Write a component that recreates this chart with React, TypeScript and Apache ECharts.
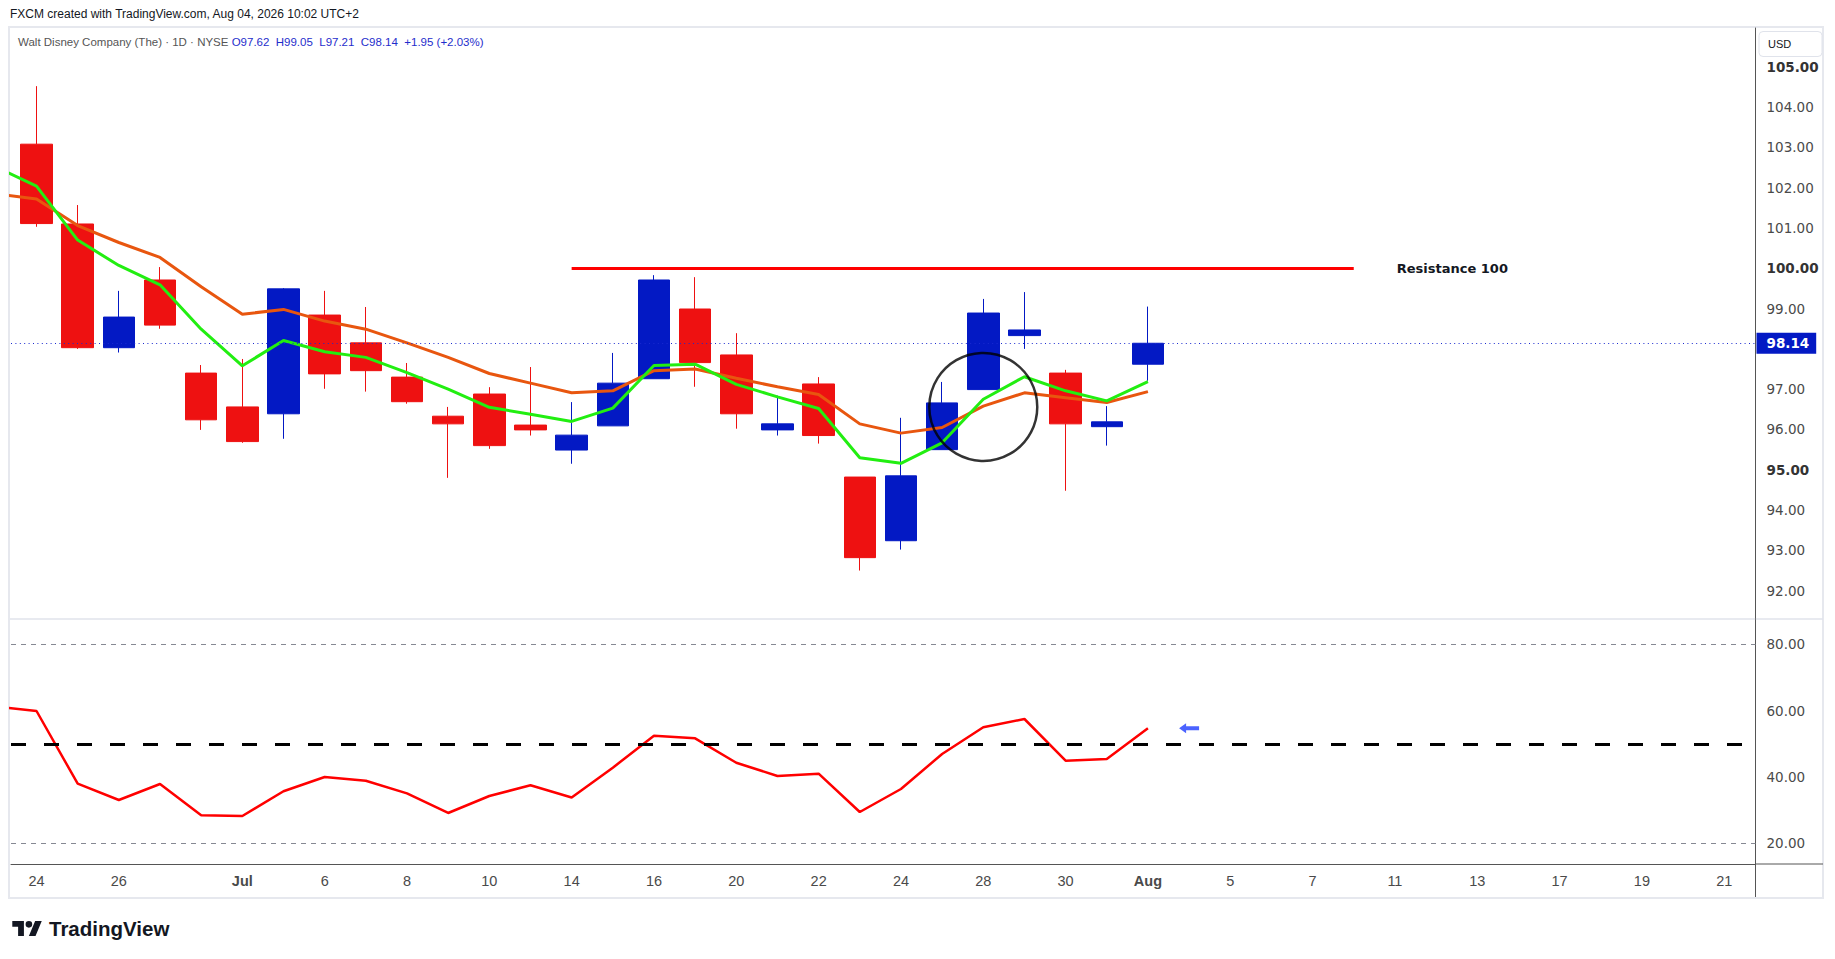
import React, { useEffect, useRef } from "react";
import * as echarts from "echarts";

// ---- data ----
const tradingDays = [
  "2026-06-24", "2026-06-25", "2026-06-26", "2026-06-29", "2026-06-30", "2026-07-01", "2026-07-02",
  "2026-07-06", "2026-07-07", "2026-07-08", "2026-07-09", "2026-07-10", "2026-07-13", "2026-07-14",
  "2026-07-15", "2026-07-16", "2026-07-17", "2026-07-20", "2026-07-21", "2026-07-22", "2026-07-23",
  "2026-07-24", "2026-07-27", "2026-07-28", "2026-07-29", "2026-07-30", "2026-07-31", "2026-08-03",
];
const openPrices = [103.08, 101.1, 98.03, 99.71, 97.4, 96.56, 96.39, 98.84, 98.15, 97.3, 96.33, 96.88, 96.11, 95.49, 96.09, 97.26, 98.99, 97.85, 95.99, 97.13, 94.82, 93.24, 95.5, 96.99, 98.33, 97.4, 96.07, 97.62];
const closePrices = [101.11, 98.03, 98.79, 98.59, 96.24, 95.7, 99.49, 97.38, 97.46, 96.69, 96.14, 95.6, 95.99, 95.86, 97.15, 99.71, 97.66, 96.39, 96.14, 95.85, 92.82, 94.85, 96.66, 98.89, 98.47, 96.14, 96.19, 98.14];
const lowPrices = [101.03, 98.0, 97.91, 98.5, 95.99, 95.67, 95.77, 97.01, 96.94, 96.64, 94.8, 95.52, 95.85, 95.15, 96.09, 97.26, 97.06, 96.02, 95.85, 95.65, 92.5, 93.02, 95.5, 96.99, 98.0, 94.48, 95.6, 97.21];
const highPrices = [104.52, 101.57, 99.44, 100.03, 97.6, 97.75, 99.51, 99.44, 99.04, 97.65, 96.56, 97.05, 97.55, 96.68, 97.9, 99.83, 99.78, 98.39, 96.84, 97.3, 94.82, 96.29, 97.18, 99.24, 99.41, 97.48, 96.58, 99.05];

// moving averages / RSI start one session earlier (Jun 23, index -1)
const fastMA = [102.52, 102.04, 100.7, 100.07, 99.59, 98.49, 97.58, 98.21, 97.93, 97.79, 97.41, 97.0, 96.55, 96.38, 96.2, 96.53, 97.59, 97.62, 97.12, 96.81, 96.52, 95.3, 95.16, 95.67, 96.75, 97.31, 96.96, 96.71, 97.19];
const slowMA = [101.85, 101.72, 101.06, 100.64, 100.27, 99.54, 98.86, 98.98, 98.69, 98.49, 98.15, 97.79, 97.39, 97.15, 96.91, 96.96, 97.46, 97.5, 97.27, 97.06, 96.87, 96.14, 95.91, 96.05, 96.58, 96.91, 96.79, 96.67, 96.94];
const rsiValues = [61.2, 59.89, 37.98, 33.06, 37.88, 28.44, 28.24, 35.68, 39.99, 38.88, 35.07, 29.14, 34.27, 37.49, 33.8, 42.8, 52.45, 51.66, 44.3, 40.3, 41.0, 29.44, 36.38, 46.93, 54.98, 57.48, 44.9, 45.4, 54.67];

const timeTickIndex = [0, 2, 5, 7, 9, 11, 13, 15, 17, 19, 21, 23, 25, 27, 29, 31, 33, 35, 37, 39, 41];
const timeTickLabels = ["24", "26", "Jul", "6", "8", "10", "14", "16", "20", "22", "24", "28", "30", "Aug", "5", "7", "11", "13", "17", "19", "21"];
// 98.00 is hidden behind the last-price tag in the reference
const priceTicks = [92, 93, 94, 95, 96, 97, 99, 100, 101, 102, 103, 104, 105];
const boldPriceTicks = [95, 100, 105];
const rsiTicks = [20, 40, 60, 80];

const resistanceLevel = 100;
const resistanceFrom = 13;
const resistanceTo = 32;
const highlightPoint = [23, 96.56];
const rsiArrowPoint = [28, 54.67];
const lastClose = 98.14;

const TV_LOGO = "M14 22H7V11H0V4h14v18zM28 22h-8l7.5-18h8L28 22zM16 8a4 4 0 1 0 8 0a4 4 0 1 0 -8 0Z";
echarts.graphic.registerShape("tvlogo", echarts.graphic.extendPath(TV_LOGO, {}));

const RED = "#ee1111";
const BLUE = "#0319c4";
const AXIS_FONT = "DejaVu Sans";
const UI_FONT = "Liberation Sans";

export default function App() {
  const ref = useRef<HTMLDivElement>(null);
  useEffect(() => {
    document.body.style.margin = "0";
    const chart = echarts.init(ref.current!, null, { renderer: "svg" });
    const candles = tradingDays.map((_, i) => [i, openPrices[i], closePrices[i], lowPrices[i], highPrices[i]]);
    const fast = fastMA.map((v, k) => [k - 1, v]);
    const slow = slowMA.map((v, k) => [k - 1, v]);
    const rsi = rsiValues.map((v, k) => [k - 1, v]);
    const xMin = -0.62;
    const xMax = 41.76;

    const option: any = {
      animation: false,
      backgroundColor: "#ffffff",
      title: [
        {
          text: "FXCM created with TradingView.com, Aug 04, 2026 10:02 UTC+2",
          left: 10,
          top: 8,
          padding: 0,
          textStyle: { fontSize: 12, fontWeight: "normal", color: "#131722", fontFamily: UI_FONT },
        },
        {
          text:
            "{g|Walt Disney Company (The) · 1D · NYSE} {v|O97.62}  {v|H99.05}  {v|L97.21}  {v|C98.14}  {v|+1.95 (+2.03%)}",
          left: 18,
          top: 36,
          padding: 0,
          textStyle: {
            fontSize: 11.5,
            fontWeight: "normal",
            fontFamily: UI_FONT,
            rich: {
              g: { color: "#555555", fontSize: 11.5, fontFamily: UI_FONT },
              v: { color: "#1f2ecc", fontSize: 11.5, fontFamily: UI_FONT },
            },
          },
        },
      ],
      grid: [
        { left: 11, right: 79.5, top: 28, height: 590.5 },
        { left: 11, right: 79.5, top: 619.5, height: 244.5 },
      ],
      xAxis: [
        {
          gridIndex: 0, type: "value", min: xMin, max: xMax,
          axisLine: { show: false }, axisTick: { show: false }, axisLabel: { show: false }, splitLine: { show: false },
        },
        {
          gridIndex: 1, type: "value", min: xMin, max: xMax,
          axisLine: { show: true, onZero: false, lineStyle: { color: "#555555", width: 1 } },
          axisTick: { show: false },
          splitLine: { show: false },
          axisLabel: {
            customValues: timeTickIndex,
            margin: 9,
            color: "#4a4a4a",
            fontSize: 14.5,
            fontFamily: UI_FONT,
            formatter: (v: number) => {
              const k = timeTickIndex.indexOf(Math.round(v));
              if (k < 0) return "";
              const t = timeTickLabels[k];
              return t === "Jul" || t === "Aug" ? `{b|${t}}` : t;
            },
            rich: { b: { fontWeight: "bold", color: "#4a4a4a", fontSize: 14.5, fontFamily: UI_FONT } },
          },
        },
      ],
      yAxis: [
        {
          gridIndex: 0, type: "value", position: "right", min: 91.31, max: 105.963,
          axisLine: { show: true, onZero: false, lineStyle: { color: "#555555", width: 1 } },
          axisTick: { show: false },
          splitLine: { show: false },
          axisLabel: {
            customValues: priceTicks,
            margin: 11,
            color: "#4a4a4a",
            fontSize: 13.5,
            fontFamily: AXIS_FONT,
            formatter: (v: number) =>
              boldPriceTicks.includes(Math.round(v)) ? `{b|${v.toFixed(2)}}` : v.toFixed(2),
            rich: { b: { fontWeight: "bold", color: "#333333", fontSize: 13.5, fontFamily: AXIS_FONT } },
          },
        },
        {
          gridIndex: 1, type: "value", position: "right", min: 13.76, max: 87.48,
          axisLine: { show: true, onZero: false, lineStyle: { color: "#555555", width: 1 } },
          axisTick: { show: false },
          splitLine: { show: false },
          axisLabel: {
            customValues: rsiTicks,
            margin: 11,
            color: "#4a4a4a",
            fontSize: 13.5,
            fontFamily: AXIS_FONT,
            formatter: (v: number) => v.toFixed(2),
          },
        },
      ],
      series: [
        {
          type: "candlestick",
          xAxisIndex: 0,
          yAxisIndex: 0,
          dimensions: ["idx", "open", "close", "lowest", "highest"],
          encode: { x: "idx", y: ["open", "close", "lowest", "highest"] },
          data: candles,
          barWidth: 32,
          itemStyle: { color: BLUE, color0: RED, borderColor: BLUE, borderColor0: RED, borderWidth: 1 },
          z: 2,
          markLine: {
            silent: true,
            symbol: ["none", "none"],
            animation: false,
            data: [
              {
                yAxis: lastClose,
                lineStyle: { color: "#1a2ad0", type: [1, 3.4], width: 1 },
                label: {
                  show: true,
                  position: "end",
                  distance: 1,
                  formatter: lastClose.toFixed(2),
                  backgroundColor: BLUE,
                  color: "#ffffff",
                  fontWeight: "bold",
                  fontSize: 13.5,
                  fontFamily: AXIS_FONT,
                  padding: [4, 7, 3, 10],
                },
              },
              [
                {
                  coord: [resistanceFrom, resistanceLevel],
                  lineStyle: { color: "#ff0000", type: "solid", width: 3 },
                  label: {
                    show: true,
                    position: "end",
                    distance: 43,
                    formatter: "Resistance 100",
                    color: "#131722",
                    fontWeight: "bold",
                    fontSize: 13,
                    fontFamily: AXIS_FONT,
                  },
                },
                { coord: [resistanceTo, resistanceLevel] },
              ],
            ],
          },
        },
        {
          type: "line",
          name: "slow",
          xAxisIndex: 0,
          yAxisIndex: 0,
          data: slow,
          symbol: "none",
          lineStyle: { color: "#e8560f", width: 3 },
          z: 3,
        },
        {
          type: "line",
          name: "fast",
          xAxisIndex: 0,
          yAxisIndex: 0,
          data: fast,
          symbol: "none",
          lineStyle: { color: "#22ee11", width: 3 },
          z: 4,
        },
        {
          type: "scatter",
          xAxisIndex: 0,
          yAxisIndex: 0,
          data: [highlightPoint],
          symbol: "circle",
          symbolSize: 108,
          silent: true,
          itemStyle: { color: "rgba(0,0,0,0)", borderColor: "#000000", borderWidth: 2.5 },
          z: 5,
        },
        {
          type: "line",
          name: "RSI",
          xAxisIndex: 1,
          yAxisIndex: 1,
          data: rsi,
          symbol: "none",
          lineStyle: { color: "#ff0000", width: 2.5 },
          z: 3,
          markLine: {
            silent: true,
            symbol: ["none", "none"],
            label: { show: false },
            data: [
              { yAxis: 80, lineStyle: { color: "#868993", type: [5, 5], width: 1 } },
              { yAxis: 50, lineStyle: { color: "#000000", type: [15, 18], width: 3 } },
              { yAxis: 20, lineStyle: { color: "#868993", type: [5, 5], width: 1 } },
            ],
          },
        },
        {
          type: "scatter",
          xAxisIndex: 1,
          yAxisIndex: 1,
          data: [rsiArrowPoint],
          symbol: "path://M0,5 L7,0 L7,3 L20,3 L20,7 L7,7 L7,10 Z",
          symbolSize: [20, 10],
          silent: true,
          itemStyle: { color: "#1e3cff" },
          z: 5,
        },
      ],
      graphic: [
        {
          type: "rect",
          silent: true,
          shape: { x: 9, y: 27, width: 1814, height: 871 },
          style: { fill: "none", stroke: "#e6e8ee", lineWidth: 2 },
          z: -1,
        },
        {
          type: "line",
          silent: true,
          shape: { x1: 10, y1: 619, x2: 1823, y2: 619 },
          style: { stroke: "#e0e3eb", lineWidth: 1.5 },
        },
        {
          type: "line",
          silent: true,
          shape: { x1: 1755, y1: 864, x2: 1823, y2: 864 },
          style: { stroke: "#555555", lineWidth: 1 },
        },
        {
          type: "line",
          silent: true,
          shape: { x1: 1755.5, y1: 864, x2: 1755.5, y2: 897 },
          style: { stroke: "#555555", lineWidth: 1 },
        },
        {
          type: "rect",
          silent: true,
          shape: { x: 1759, y: 31.5, width: 63, height: 25, r: 4 },
          style: { fill: "#ffffff", stroke: "#e0e3eb", lineWidth: 1 },
        },
        {
          type: "text",
          silent: true,
          x: 1768,
          y: 44,
          style: { text: "USD", fill: "#131722", fontSize: 11, fontFamily: UI_FONT, verticalAlign: "middle" },
        },
        {
          type: "tvlogo",
          silent: true,
          x: 12.3,
          y: 917.7,
          scaleX: 0.83,
          scaleY: 0.83,
          style: { fill: "#131722" },
        },
        {
          type: "text",
          silent: true,
          x: 49,
          y: 928,
          style: {
            text: "TradingView",
            fill: "#131722",
            fontSize: 20.5,
            fontWeight: "bold",
            fontFamily: UI_FONT,
            verticalAlign: "middle",
          },
        },
      ],
    };
    chart.setOption(option);
    return () => chart.dispose();
  }, []);
  return <div ref={ref} style={{ width: 1835, height: 959, background: "#ffffff" }} />;
}
